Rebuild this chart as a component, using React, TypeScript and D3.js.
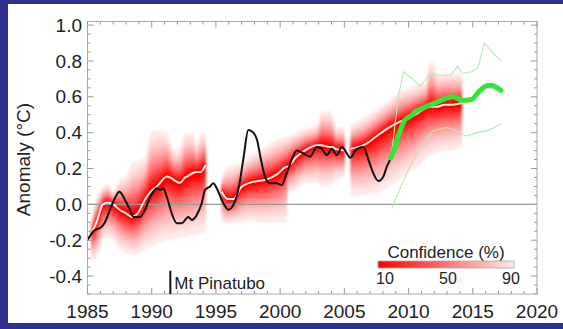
import React from "react";
import * as d3 from "d3";

// ---------- data ----------
const obsYears = [1985.0, 1985.45, 1986.11, 1986.36, 1986.75, 1987.14, 1987.48, 1987.92, 1988.31, 1988.57, 1989.09, 1989.48, 1989.87, 1990.12, 1990.39, 1990.65, 1990.9, 1991.17, 1991.56, 1991.95, 1992.34, 1992.85, 1993.12, 1993.5, 1993.89, 1994.15, 1994.54, 1994.8, 1995.06, 1995.58, 1995.97, 1996.36, 1996.74, 1997.13, 1997.52, 1997.91, 1998.2, 1998.45, 1998.82, 1999.21, 1999.74, 2000.12, 2000.51, 2000.9, 2001.29, 2001.78, 2002.33, 2002.85, 2003.24, 2003.63, 2004.02, 2004.41, 2004.8, 2005.19, 2005.44, 2005.97, 2006.48, 2006.87, 2007.26, 2007.65, 2008.04, 2008.3, 2008.56];
const obsValues = [-0.2, -0.15, -0.125, -0.1, -0.03, 0.035, 0.07, 0.025, -0.03, -0.07, -0.07, -0.03, 0.04, 0.07, 0.09, 0.08, 0.09, 0.043, -0.05, -0.105, -0.105, -0.07, -0.087, -0.06, 0.006, 0.08, 0.1, 0.118, 0.09, 0.006, -0.03, -0.003, 0.08, 0.25, 0.415, 0.4, 0.36, 0.27, 0.155, 0.118, 0.118, 0.108, 0.173, 0.25, 0.3, 0.285, 0.266, 0.32, 0.31, 0.275, 0.31, 0.275, 0.32, 0.285, 0.26, 0.31, 0.32, 0.25, 0.173, 0.13, 0.155, 0.21, 0.248];

// hindcast segment A
const segAYears = [1985.3, 1985.7, 1986.2, 1986.6, 1987.0, 1987.5, 1988.0, 1988.45, 1988.9, 1989.5, 1989.9, 1990.4, 1991.2, 1991.65, 1991.85, 1992.2, 1992.6, 1992.75, 1993.2, 1993.5, 1993.8, 1994.2];
const segAMedian = [-0.16, -0.1, 0.0, 0.01, 0.0, -0.03, -0.05, -0.07, -0.05, 0.03, 0.07, 0.1, 0.155, 0.14, 0.13, 0.12, 0.15, 0.155, 0.175, 0.18, 0.18, 0.22];
const segALow = [-0.32, -0.3, -0.2, -0.18, -0.2, -0.25, -0.27, -0.28, -0.28, -0.25, -0.24, -0.22, -0.2, -0.2, -0.19, -0.18, -0.18, -0.18, -0.17, -0.17, -0.16, -0.16];
const segAHigh = [-0.08, 0.04, 0.1, 0.12, 0.07, 0.14, 0.16, 0.23, 0.24, 0.26, 0.4, 0.41, 0.4, 0.31, 0.3, 0.32, 0.4, 0.4, 0.4, 0.33, 0.4, 0.4];

// hindcast segment B
const segBYears = [1995.45, 1995.9, 1996.4, 1996.9, 1997.6, 1998.3, 1999.0, 1999.8, 2000.5, 2000.55, 2001.2, 2001.9, 2002.9, 2003.2, 2003.9, 2004.1, 2004.3, 2005.0];
const segBMedian = [0.07, 0.03, 0.03, 0.09, 0.12, 0.13, 0.14, 0.17, 0.21, 0.21, 0.26, 0.3, 0.33, 0.33, 0.32, 0.32, 0.31, 0.3];
const segBLow = [-0.1, -0.11, -0.1, -0.1, -0.09, -0.1, -0.1, -0.1, -0.1, 0.06, 0.08, 0.12, 0.12, 0.1, 0.11, 0.12, 0.14, 0.15];
const segBHigh = [0.16, 0.21, 0.22, 0.23, 0.27, 0.3, 0.33, 0.36, 0.38, 0.38, 0.4, 0.42, 0.44, 0.52, 0.52, 0.5, 0.43, 0.43];

// hindcast segment C
const segCYears = [2005.5, 2006.5, 2007.5, 2008.5, 2009.3, 2010.5, 2011.4, 2011.6, 2012.0, 2012.2, 2012.8, 2013.3, 2014.15];
const segCMedian = [0.31, 0.33, 0.38, 0.43, 0.46, 0.5, 0.54, 0.545, 0.545, 0.545, 0.555, 0.555, 0.565];
const segCLow = [0.05, 0.05, 0.06, 0.1, 0.14, 0.2, 0.26, 0.27, 0.28, 0.29, 0.3, 0.3, 0.32];
const segCHigh = [0.44, 0.48, 0.53, 0.58, 0.63, 0.66, 0.68, 0.8, 0.79, 0.72, 0.73, 0.73, 0.73];

// forecast
const fcYears = [2008.6, 2008.8, 2009.2, 2009.7, 2010.1, 2010.6, 2011.2, 2011.7, 2012.4, 2013.0, 2013.5, 2014.2, 2014.9, 2015.5, 2016.0, 2016.4, 2016.8, 2017.2];
const fcValues = [0.26, 0.29, 0.38, 0.47, 0.49, 0.52, 0.54, 0.555, 0.575, 0.595, 0.6, 0.58, 0.585, 0.63, 0.66, 0.665, 0.655, 0.635];
const fcUpperYears = [2008.7, 2009.2, 2009.6, 2010.3, 2010.9, 2011.7, 2012.3, 2013.3, 2013.8, 2014.2, 2014.9, 2015.4, 2015.9, 2016.5, 2017.2];
const fcUpperValues = [0.3, 0.6, 0.74, 0.7, 0.66, 0.73, 0.72, 0.72, 0.77, 0.73, 0.74, 0.76, 0.9, 0.85, 0.8];
const fcLowerYears = [2008.7, 2009.1, 2009.9, 2010.9, 2011.9, 2013.0, 2013.7, 2014.5, 2015.3, 2016.1, 2016.7, 2017.2];
const fcLowerValues = [-0.02, 0.05, 0.18, 0.32, 0.41, 0.43, 0.41, 0.38, 0.4, 0.41, 0.43, 0.45];

const confidenceLevels = [90, 85, 80, 75, 70, 65, 60, 55, 50, 45, 40, 35, 30, 25, 20, 15, 10];
const legendTicks = [10, 50, 90];
const xTicks = [1985, 1990, 1995, 2000, 2005, 2010, 2015, 2020];
const yTicks = [-0.4, -0.2, 0.0, 0.2, 0.4, 0.6, 0.8, 1.0];
const pinatuboYear = 1991.45;

// ---------- layout ----------
const W = 563, H = 329;
const x = d3.scaleLinear().domain([1985, 2020]).range([87.5, 537]);
const y = d3.scaleLinear().domain([-0.5, 1.02]).range([294, 21.5]);

function invNorm(p: number) {
  const a = [-3.969683028665376e1, 2.209460984245205e2, -2.759285104469687e2, 1.38357751867269e2, -3.066479806614716e1, 2.506628277459239];
  const b = [-5.447609879822406e1, 1.615858368580409e2, -1.556989798598866e2, 6.680131188771972e1, -1.328068155288572e1];
  const q = p - 0.5, r = q * q;
  return (((((a[0] * r + a[1]) * r + a[2]) * r + a[3]) * r + a[4]) * r + a[5]) * q / (((((b[0] * r + b[1]) * r + b[2]) * r + b[3]) * r + b[4]) * r + 1);
}
const zOf = (p: number) => invNorm(0.5 + p / 200);
const z90 = zOf(90);
const colorOf = (p: number) => d3.interpolateRgb("#ff0000", "#ffe8e8")((p - 10) / 80);
const legendX = d3.scaleLinear().domain([10, 90]).range([385, 511]);

type Pt = { yr: number; m: number; lo: number; hi: number };
const makeSeg = (ys: number[], m: number[], lo: number[], hi: number[]): Pt[] =>
  ys.map((yr, i) => ({ yr, m: m[i], lo: lo[i], hi: hi[i] }));
const segments = [
  makeSeg(segAYears, segAMedian, segALow, segAHigh),
  makeSeg(segBYears, segBMedian, segBLow, segBHigh),
  makeSeg(segCYears, segCMedian, segCLow, segCHigh),
];

const line = d3.line<[number, number]>().x((d) => x(d[0])).y((d) => y(d[1]));
const smooth = d3.line<[number, number]>().x((d) => x(d[0])).y((d) => y(d[1])).curve(d3.curveMonotoneX);
const zip = (a: number[], b: number[]) => a.map((v, i) => [v, b[i]] as [number, number]);

export default function App() {
  const xMinor = d3.range(1985, 2021, 1);
  const yMinor = d3.range(-0.5, 1.0001, 0.05);
  const font = "'Liberation Sans', Arial, sans-serif";
  return (
    <svg width={W} height={H} style={{ position: "absolute", left: 0, top: 0 }} fontFamily={font}>
      <defs>
        <linearGradient id="conf" x1="0" x2="1" y1="0" y2="0">
          <stop offset="0%" stopColor={colorOf(10)} />
          <stop offset="50%" stopColor={colorOf(50)} />
          <stop offset="100%" stopColor={colorOf(90)} />
        </linearGradient>
        <filter id="soft" x="-5%" y="-5%" width="110%" height="110%">
          <feGaussianBlur stdDeviation="0.8" />
        </filter>
        <clipPath id="plot">
          <rect x={x(1985)} y={y(1.02)} width={x(2020) - x(1985)} height={y(-0.5) - y(1.02)} />
        </clipPath>
      </defs>
      <rect x={0} y={0} width={W} height={H} fill="#2e3192" />
      <rect x={8} y={4} width={W - 8} height={319} fill="#ffffff" />

      {/* bands */}
      <g clipPath="url(#plot)" filter="url(#soft)">
        {segments.map((seg, si) =>
          confidenceLevels.map((p) => {
            const s = zOf(p) / z90;
            const area = d3
              .area<Pt>()
              .x((d) => x(d.yr))
              .y0((d) => y(d.m - s * (d.m - d.lo)))
              .y1((d) => y(d.m + s * (d.hi - d.m)));
            return <path key={`${si}-${p}`} d={area(seg) || ""} fill={colorOf(p)} />;
          })
        )}
      </g>

      {/* zero line */}
      <line x1={x(1985)} x2={x(2020)} y1={y(0)} y2={y(0)} stroke="#999" strokeWidth={1.2} />

      {/* lines */}
      <g clipPath="url(#plot)">
        {segments.map((seg, si) => (
          <path key={si} d={smooth(seg.map((d) => [d.yr, d.m] as [number, number])) || ""} fill="none" stroke="#ffeaea" strokeWidth={2} />
        ))}
        <path d={line(zip(fcUpperYears, fcUpperValues)) || ""} fill="none" stroke="#b2eab2" strokeWidth={1.1} />
        <path d={line(zip(fcLowerYears, fcLowerValues)) || ""} fill="none" stroke="#b2eab2" strokeWidth={1.1} />
        <path d={smooth(zip(obsYears, obsValues)) || ""} fill="none" stroke="#111" strokeWidth={2} strokeLinejoin="round" />
        <path d={smooth(zip(fcYears, fcValues)) || ""} fill="none" stroke="#33e633" strokeWidth={5} strokeLinecap="round" strokeLinejoin="round" />
      </g>

      {/* frame & ticks */}
      <rect x={x(1985)} y={y(1.02)} width={x(2020) - x(1985)} height={y(-0.5) - y(1.02)} fill="none" stroke="#aaa" strokeWidth={1} />
      <g stroke="#999" strokeWidth={1}>
        {xMinor.map((t) => {
          const len = t % 5 === 0 ? 6 : 3;
          return (
            <g key={`xt${t}`}>
              <line x1={x(t)} x2={x(t)} y1={y(-0.5)} y2={y(-0.5) - len} />
              <line x1={x(t)} x2={x(t)} y1={y(1.02)} y2={y(1.02) + len} />
            </g>
          );
        })}
        {yMinor.map((t, i) => {
          const major = Math.abs(Math.round(t * 10) - t * 10) < 1e-6 && Math.round(t * 10) % 2 === 0;
          const len = major ? 6 : 3;
          return (
            <g key={`yt${i}`}>
              <line x1={x(1985)} x2={x(1985) + len} y1={y(t)} y2={y(t)} />
              <line x1={x(2020)} x2={x(2020) - len} y1={y(t)} y2={y(t)} />
            </g>
          );
        })}
      </g>

      {/* labels */}
      <g fontSize={19} fill="#222">
        {xTicks.map((t) => (
          <text key={t} x={x(t)} y={318} textAnchor="middle">{t}</text>
        ))}
        {yTicks.map((t) => (
          <text key={t} x={82} y={y(t)} dy="0.35em" textAnchor="end">{t.toFixed(1)}</text>
        ))}
        <text transform={`translate(23,${y(0.25)}) rotate(-90)`} textAnchor="middle" dy="0.35em">Anomaly (°C)</text>
      </g>

      {/* Pinatubo */}
      <line x1={x(pinatuboYear)} x2={x(pinatuboYear)} y1={y(-0.37)} y2={y(-0.5)} stroke="#111" strokeWidth={2} />
      <text x={x(pinatuboYear) + 4} y={y(-0.47)} fontSize={17} fill="#222">Mt Pinatubo</text>

      {/* legend */}
      <text x={446} y={258} fontSize={17} textAnchor="middle" fill="#222">Confidence (%)</text>
      <rect x={378} y={261} width={136} height={7} fill="url(#conf)" stroke="#aaa" strokeWidth={0.8} />
      {legendTicks.map((t) => (
        <text key={t} x={legendX(t)} y={284} fontSize={16} textAnchor="middle" fill="#222">{t}</text>
      ))}
    </svg>
  );
}
